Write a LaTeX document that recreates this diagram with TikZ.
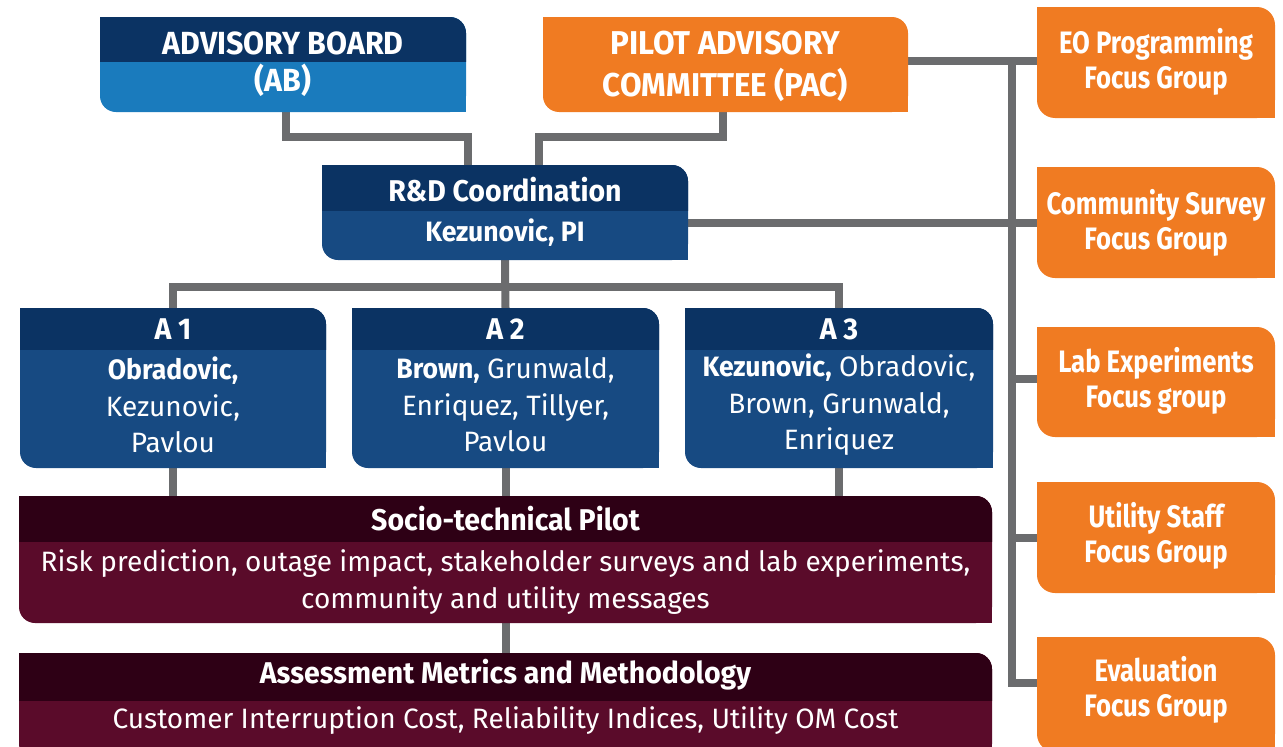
\documentclass[tikz,border=0pt]{standalone}
\usepackage{fontspec}
\setmainfont{Fira Sans}[BoldFeatures={FakeStretch=0.95}]
\newfontfamily\grpfont{Fira Sans}[FakeStretch=0.83]
\usetikzlibrary{calc}

\definecolor{navy}{HTML}{0B3363}
\definecolor{skyblue}{HTML}{1A7BBD}
\definecolor{midblue}{HTML}{174A82}
\definecolor{wine}{HTML}{2E0015}
\definecolor{maroon}{HTML}{5A0B2A}
\definecolor{pumpkin}{HTML}{F07B22}
\definecolor{wire}{HTML}{6B6C6E}

% box with rounded top-right and bottom-left corners
\newcommand\leafshape[3]{% node, radius, colour
  \fill[#3,rounded corners=#2] (#1.north west) rectangle (#1.south east);
  \fill[#3] (#1.north west) rectangle ++(#2,-#2);
  \fill[#3] (#1.south east) rectangle ++(-#2,#2);}
% darker title band across the top of a box
\newcommand\leafhead[4]{% node, radius, colour, band height
  \begin{scope}
    \clip (#1.north west) rectangle ([yshift=-#4]#1.north east);
    \leafshape{#1}{#2}{#3}
  \end{scope}}

\tikzset{
  frame/.style={inner sep=0pt, outer sep=0pt},
  conn/.style={draw=wire, line width=8pt},
  txt/.style={text=white, align=center, inner sep=0pt},
  head/.style={txt, font=\bfseries\fontsize{30}{36}\selectfont},
  names/.style={txt, font=\fontsize{28}{36.5}\selectfont},
  body/.style={txt, font=\fontsize{28}{37.5}\selectfont},
  group/.style={txt, font=\grpfont\bfseries\fontsize{31}{35}\selectfont},
}

\begin{document}
\begin{tikzpicture}[x=1pt,y=-1pt]
\useasboundingbox (0,0) rectangle (1283,747);
\clip (0,0) rectangle (1283,747);

% box outlines
\node[frame, minimum width=366pt, minimum height=95pt] (ab) at (283,64.5) {};
\node[frame, minimum width=365pt, minimum height=95pt] (pac) at (725.5,64.5) {};
\node[frame, minimum width=366pt, minimum height=95pt] (rd) at (505,212.5) {};
\node[frame, minimum width=306pt, minimum height=160pt] (a1) at (173,388) {};
\node[frame, minimum width=307pt, minimum height=160pt] (a2) at (505.5,388) {};
\node[frame, minimum width=308pt, minimum height=160pt] (a3) at (839,388) {};
\node[frame, minimum width=973pt, minimum height=127pt] (socio) at (505.5,559.5) {};
\node[frame, minimum width=973pt, minimum height=107pt] (assess) at (505.5,706.5) {};
\node[frame, minimum width=238pt, minimum height=111pt] (eo) at (1156,62.5) {};
\node[frame, minimum width=238pt, minimum height=111pt] (comm) at (1156,222.5) {};
\node[frame, minimum width=238pt, minimum height=110pt] (lab) at (1156,382) {};
\node[frame, minimum width=238pt, minimum height=111pt] (util) at (1156,537.5) {};
\node[frame, minimum width=238pt, minimum height=115pt] (eval) at (1156,694.5) {};

% connectors
\draw[conn] ([xshift=3pt]ab.south) -- ++(0,25) -| ([xshift=-37pt]rd.north);
\draw[conn] ([xshift=-2.5pt]pac.south) -- ++(0,25) -| ([xshift=34pt]rd.north);
\coordinate (bustop) at (1012,61);
\coordinate (busbot) at (1012,683);
\draw[conn] ([yshift=3.5pt]pac.east) -- ([yshift=3.5pt]pac.east -| eo.west);
\draw[conn] (bustop) -- (busbot) -- (busbot -| eval.west);
\draw[conn] (comm.west -| rd.east) -- (comm.west);
\draw[conn] ([yshift=3pt]lab.west) -- ([yshift=3pt]lab.west -| bustop);
\draw[conn] (util.west) -- (util.west -| bustop);
\draw[conn] (rd.south) -- (a2.north);
\draw[conn] (a1.north) |- ([yshift=-27pt]rd.south) -| (a3.north);
\draw[conn] (a1.south) -- (a1.south |- socio.north);
\draw[conn] (a2.south) -- (a2.south |- socio.north);
\draw[conn] (a3.south) -- (a3.south |- socio.north);
\draw[conn] (socio.south) -- (assess.north);

% box fills
\leafshape{ab}{16pt}{skyblue}\leafhead{ab}{16pt}{navy}{44pt}
\leafshape{pac}{16pt}{pumpkin}
\leafshape{rd}{16pt}{midblue}\leafhead{rd}{16pt}{navy}{45pt}
\foreach \n in {a1,a2,a3}{\leafshape{\n}{16pt}{midblue}\leafhead{\n}{16pt}{navy}{41pt}}
\leafshape{socio}{16pt}{maroon}\leafhead{socio}{16pt}{wine}{45pt}
\leafshape{assess}{16pt}{maroon}\leafhead{assess}{16pt}{wine}{47pt}
\foreach \n in {eo,comm,lab,util,eval}{\leafshape{\n}{18pt}{pumpkin}}

% texts
\node[txt, font=\bfseries\fontsize{32}{37}\selectfont] (ab-t) at (283,64) {ADVISORY BOARD\\(AB)};
\node[txt, font=\bfseries\fontsize{33}{42}\selectfont] (pac-t) at (725.5,66) {PILOT ADVISORY\\COMMITTEE (PAC)};
\node[head] (rd-t) at (505,190) {R\&D Coordination};
\node[head, font=\bfseries\fontsize{28}{34}\selectfont] (rd-n) at (505,233) {Kezunovic, PI};
\node[head] (a1-t) at (173,329) {A 1};
\node[head] (a2-t) at (505.5,329) {A 2};
\node[head] (a3-t) at (839,329) {A 3};
\node[names] (a1-n) at (173,405) {\textbf{Obradovic,}\\Kezunovic,\\Pavlou};
\node[names] (a2-n) at (505.5,405) {\textbf{Brown,} Grunwald,\\Enriquez, Tillyer,\\Pavlou};
\node[names] (a3-n) at (839,405) {\textbf{Kezunovic,} Obradovic,\\Brown, Grunwald,\\Enriquez};
\node[head] (socio-t) at (505.5,519) {Socio-technical Pilot};
\node[body] (socio-n) at (505.5,582) {Risk prediction, outage impact, stakeholder surveys and lab experiments,\\community and utility messages};
\node[head] (assess-t) at (505.5,675) {Assessment Metrics and Methodology};
\node[body] (assess-n) at (505.5,721) {Customer Interruption Cost, Reliability Indices, Utility OM Cost};
\node[group] (eo-t) at (1156,62) {EO Programming\\Focus Group};
\node[group] (comm-t) at (1156,223) {Community Survey\\Focus Group};
\node[group] (lab-t) at (1156,381) {Lab Experiments\\Focus group};
\node[group] (util-t) at (1156,536) {Utility Staff\\Focus Group};
\node[group] (eval-t) at (1156,690) {Evaluation\\Focus Group};
\end{tikzpicture}
\end{document}
